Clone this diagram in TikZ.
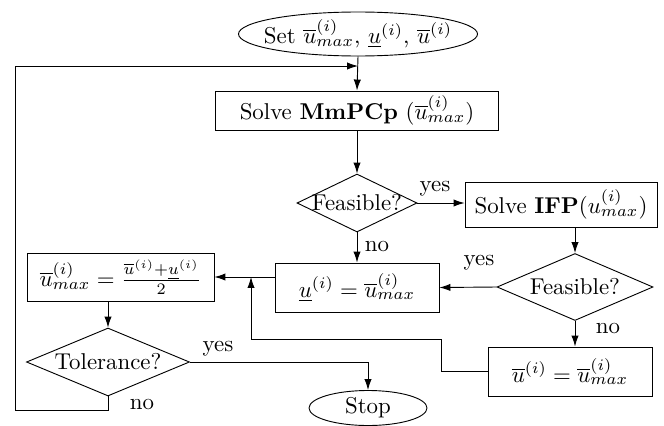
\documentclass[tikz,border=0pt]{standalone}
\usetikzlibrary{shapes.geometric,arrows.meta,calc}
% text whose width is ignored when a shape is sized
\newcommand{\nowidth}[1]{\makebox[0pt]{#1}}
% drawing unit
\newlength{\pxl}
\setlength{\pxl}{0.437pt}
\begin{document}
\begin{tikzpicture}[x=\pxl,y=-\pxl, line width=0.4pt,
  arr/.style={-{Latex[length=4.8pt,width=3.2pt]}},
  sz/.style 2 args={minimum width=#1*\pxl, minimum height=#2*\pxl},
  box/.style={draw, rectangle, inner sep=0pt},
  term/.style={draw, ellipse, inner sep=0pt},
  dec/.style={draw, diamond, inner sep=0pt},
  lbl/.style={inner sep=0pt}]
\useasboundingbox (0,0) rectangle (664,425);

% blocks
\node[term, sz={239}{44}] (start) at (358,34)
  {\nowidth{Set $\overline{u}^{(i)}_{max}$, $\underline{u}^{(i)}$, $\overline{u}^{(i)}$}};
\node[box, sz={283}{39}] (mm) at (357,110.5)
  {Solve \textbf{MmPCp} ($\overline{u}^{(i)}_{max}$)};
\node[dec, sz={120}{58}] (d1) at (357,203) {\nowidth{Feasible?}};
\node[box, sz={192}{45}] (ifp) at (561,204.5)
  {Solve \textbf{IFP}($u^{(i)}_{max}$)};
\node[dec, sz={156}{67}] (d2) at (575,287) {\nowidth{Feasible?}};
\node[box, sz={164}{49}] (ul) at (357,287.5)
  {$\underline{u}^{(i)} = \overline{u}^{(i)}_{max}$};
\node[box, sz={164}{49}] (ub) at (570,371.5)
  {$\overline{u}^{(i)} = \overline{u}^{(i)}_{max}$};
\node[box, sz={187}{48}] (um) at (120.5,277)
  {$\overline{u}^{(i)}_{max} = \frac{\overline{u}^{(i)}+\underline{u}^{(i)}}{2}$};
\node[dec, sz={163}{68}] (tol) at (108,362) {\nowidth{Tolerance?}};
\node[term, sz={118}{35}] (stop) at (368,408) {Stop};

% bend points of the return lines
\coordinate (loopin) at (358,66);
\coordinate (loopbl) at (15,410);
\coordinate (fbx) at (441,339);
\coordinate (join) at (251,277);

% connectors
\draw[arr] (start.south) -- (mm.north);
\draw[arr] (mm.south) -- (d1.north);
\draw[arr] (d1.east) -- (d1.east -| ifp.west);
\draw[arr] (d1.south) -- (ul.north);
\draw[arr] (ifp.south -| d2.north) -- (d2.north);
\draw[arr] (d2.west) -- (ul.east);
\draw[arr] (d2.south) -- (d2.south |- ub.north);
\draw[arr] (ul.west |- um.east) -- (um.east);
\draw[arr] (ub.west) -| (fbx) -| (join);
\draw[arr] (tol.north |- um.south) -- (tol.north);
\draw[arr] (tol.east) -| (stop.north);
\draw[arr] (tol.south) |- (loopbl) |- (loopin);

% branch labels
\node[lbl] (y1) at (435,189) {yes};
\node[lbl] (n1) at (377,246) {no};
\node[lbl] (y2) at (479,263) {yes};
\node[lbl] (n2) at (608,328) {no};
\node[lbl] (y3) at (218,349) {yes};
\node[lbl] (n3) at (142,404) {no};
\end{tikzpicture}
\end{document}
